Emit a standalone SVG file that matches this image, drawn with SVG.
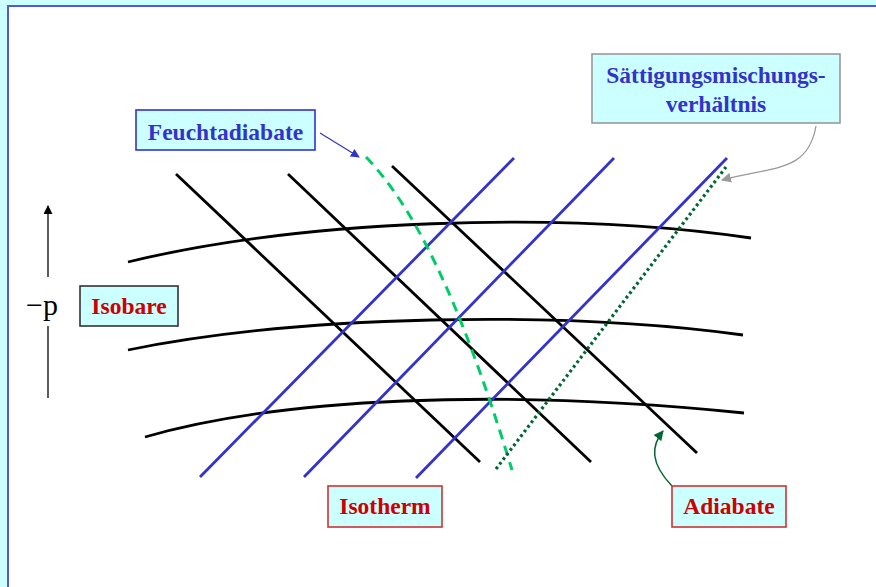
<svg xmlns="http://www.w3.org/2000/svg" width="876" height="587" viewBox="0 0 876 587">
<defs>
<style>
.lbl{font-family:"Liberation Serif","Times New Roman",serif;font-weight:bold;font-size:23.5px;text-anchor:middle}
.blue{fill:#3333CC}.red{fill:#CC0000}
.box{fill:#CCFFFF;stroke-width:1.6}
.iso{fill:none;stroke:#000;stroke-width:2.8;stroke-linecap:butt}
.th{fill:none;stroke:#3333CC;stroke-width:2.8}
</style>
<marker id="ahBlue" viewBox="0 0 10 10" refX="9" refY="5" markerWidth="9" markerHeight="9" markerUnits="userSpaceOnUse" orient="auto"><path d="M0,0 L10,5 L0,10 z" fill="#3333CC"/></marker>
<marker id="ahGray" viewBox="0 0 10 10" refX="9" refY="5" markerWidth="10" markerHeight="10" markerUnits="userSpaceOnUse" orient="auto"><path d="M0,0 L10,5 L0,10 z" fill="#999999"/></marker>
<marker id="ahGreen" viewBox="0 0 10 10" refX="9" refY="5" markerWidth="10" markerHeight="10" markerUnits="userSpaceOnUse" orient="auto"><path d="M0,0 L10,5 L0,10 z" fill="#006633"/></marker>
<marker id="ahBlack" viewBox="0 0 10 10" refX="9" refY="5" markerWidth="9" markerHeight="9" markerUnits="userSpaceOnUse" orient="auto"><path d="M0,0 L10,5 L0,10 z" fill="#000"/></marker>
</defs>
<rect x="0" y="0" width="876" height="587" fill="#CCFFFF"/>
<rect x="7" y="5" width="869" height="582" fill="#fff"/>
<path d="M8,587 V6 H876" fill="none" stroke="#5555DD" stroke-width="2"/>

<g id="lines">
<path class="iso" d="M176,174 L480,462"/>
<path class="iso" d="M288,174 L591,462"/>
<path class="iso" d="M392,166 L697,453"/>
<path class="iso" d="M128,262 C300,220 560,210 751,238"/>
<path class="iso" d="M128,350 C300,315 560,310 743,335"/>
<path class="iso" d="M145,437 C280,398 500,388 744,413"/>
<path class="th" d="M200,477 L514,158"/>
<path class="th" d="M304,477 L614,158"/>
<path class="th" d="M416,478 L727,158"/>
<path d="M366,157 C412,205 458,292 512,470" fill="none" stroke="#00CC66" stroke-width="3" stroke-dasharray="10,7"/>
<path d="M496,469 L726,167" fill="none" stroke="#006633" stroke-width="3.2" stroke-dasharray="2.8,3"/>
</g>

<g id="connectors">
<path d="M320,133 L359,157" fill="none" stroke="#3333CC" stroke-width="1.3" marker-end="url(#ahBlue)"/>
<path d="M816,126 C808,172 775,166 722,180" fill="none" stroke="#999999" stroke-width="1.3" marker-end="url(#ahGray)"/>
<path d="M672,486 C650,463 651,446 663,431" fill="none" stroke="#006633" stroke-width="1.5" marker-end="url(#ahGreen)"/>
<path d="M48,277 L48,206" fill="none" stroke="#333" stroke-width="1.6" marker-end="url(#ahBlack)"/>
<path d="M48,326 L48,398" fill="none" stroke="#333" stroke-width="1.6"/>
</g>

<g id="axis-label">
<text x="42" y="315" font-family="'Liberation Serif','Times New Roman',serif" font-size="30" text-anchor="middle" fill="#000">&#8722;p</text>
</g>

<g id="feuchtadiabate">
<rect class="box" x="136" y="110" width="179" height="40" stroke="#3333CC"/>
<text class="lbl blue" x="225.5" y="140">Feuchtadiabate</text>
</g>

<g id="saettigung">
<rect class="box" x="592" y="54" width="248" height="69" stroke="#999999"/>
<text class="lbl blue" x="716" y="83">S&#228;ttigungsmischungs-</text>
<text class="lbl blue" x="716" y="112">verh&#228;ltnis</text>
</g>

<g id="isobare">
<rect class="box" x="80" y="286" width="98" height="40" stroke="#333333"/>
<text class="lbl red" x="129" y="314">Isobare</text>
</g>

<g id="isotherm">
<rect class="box" x="328" y="486" width="114" height="41" stroke="#CC3333"/>
<text class="lbl red" x="385" y="514">Isotherm</text>
</g>

<g id="adiabate">
<rect class="box" x="672" y="486" width="114" height="41" stroke="#CC3333"/>
<text class="lbl red" x="729" y="514">Adiabate</text>
</g>
</svg>
